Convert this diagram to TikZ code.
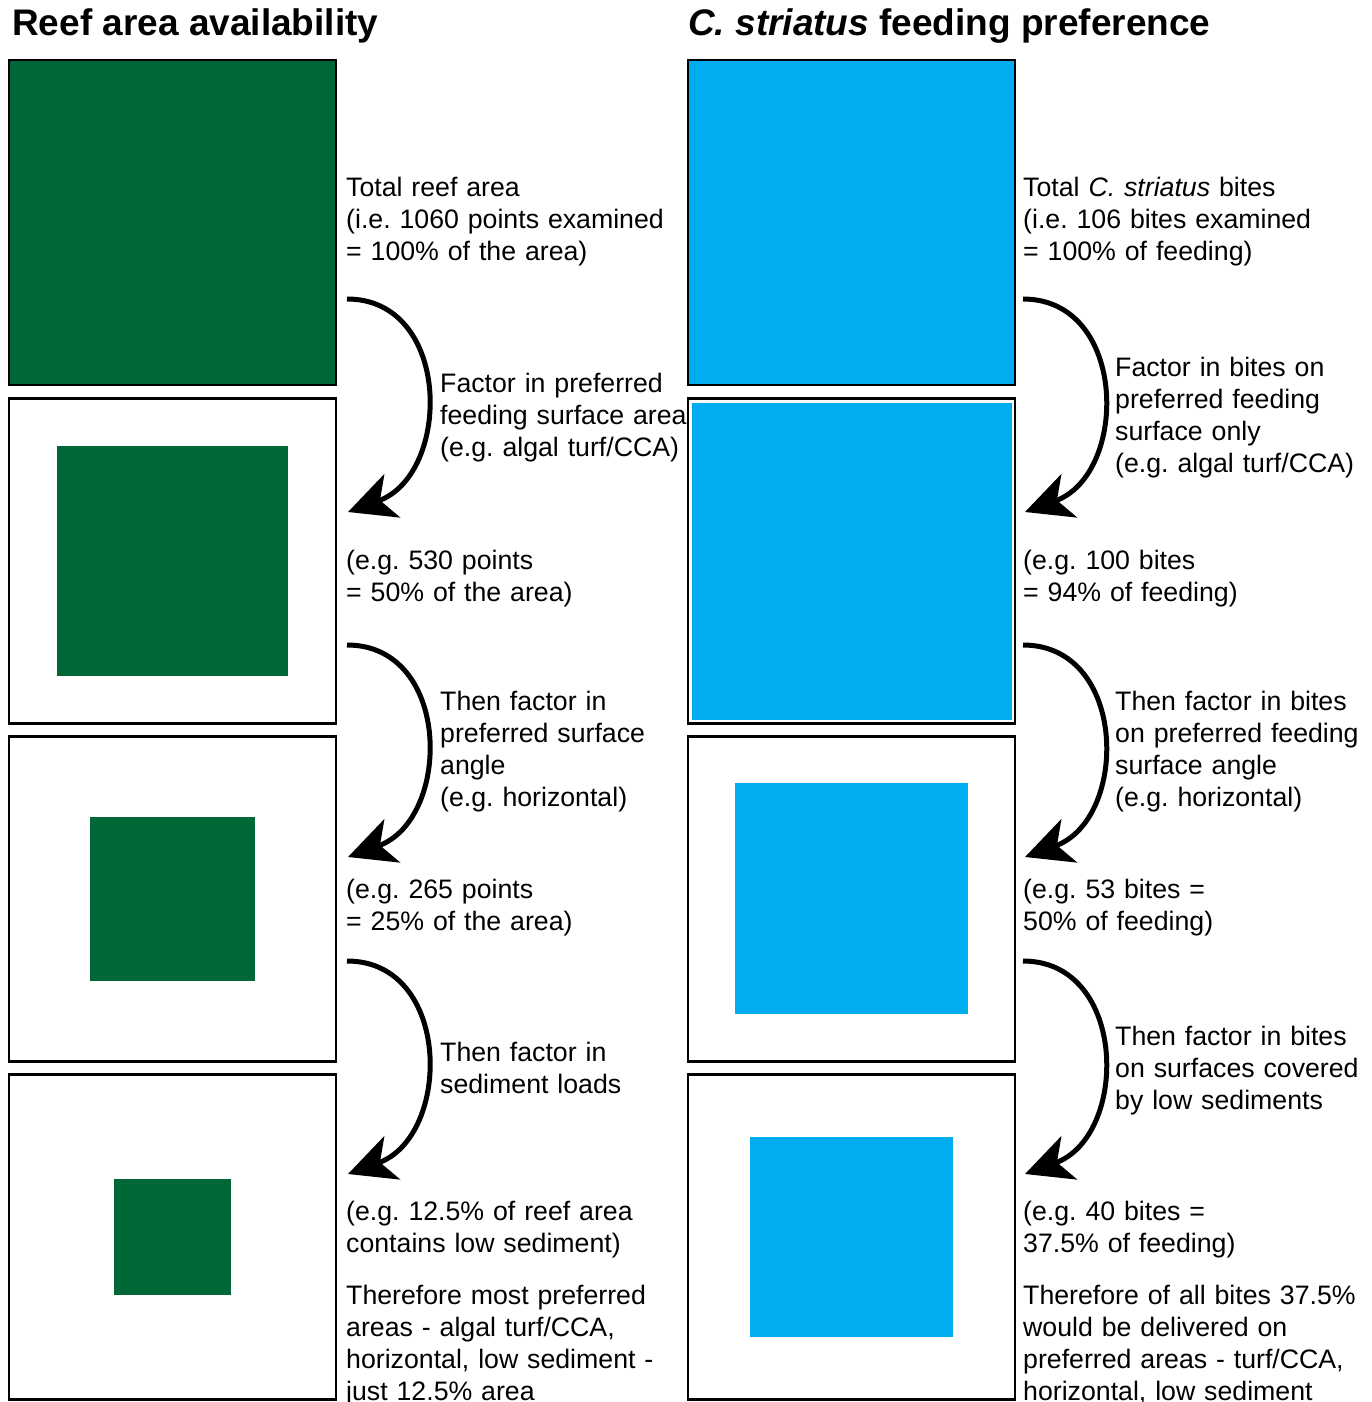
\documentclass[tikz,border=0pt]{standalone}
\usepackage{fontspec}
\setmainfont{Liberation Sans}
\usetikzlibrary{arrows.meta}
\definecolor{reefgreen}{RGB}{0,104,55}
\definecolor{biteblue}{RGB}{0,174,239}
\frenchspacing
\begin{document}
\begin{tikzpicture}[x=1pt,y=-1pt,
  panel/.style={draw=black, line width=2.5pt, inner sep=0pt, outer sep=0pt,
                minimum width=327pt, minimum height=325pt, fill=white},
  patch/.style={draw=none, inner sep=0pt, outer sep=0pt},
  heading/.style={anchor=base west, inner sep=0pt,
                  font=\fontsize{37}{44}\selectfont\bfseries},
  note/.style={anchor=base west, inner sep=0pt, text width=345pt, align=left,
               font=\fontsize{26.7}{32}\selectfont},
  flow/.style={line width=5pt, -{Stealth[length=47pt,width=46pt,inset=13pt]}}
]
\fill[white] (0,0) rectangle (1371,1402);
\useasboundingbox (0,0) rectangle (1371,1402);

% headings
\node[heading] (hl) at (12,36) {Reef area availability};
\node[heading] (hr) at (688,36) {\itshape C. striatus\upshape{} feeding preference};

% left column: reef area
\node[panel, fill=reefgreen] (L1) at (172.5,222.5) {};
\node[panel] (L2) at (172.5,561) {};
\node[panel] (L3) at (172.5,899) {};
\node[panel] (L4) at (172.5,1237) {};
\node[patch, fill=reefgreen, minimum width=231pt, minimum height=230pt] (g2) at (172.5,561) {};
\node[patch, fill=reefgreen, minimum width=165pt, minimum height=164pt] (g3) at (172.5,899) {};
\node[patch, fill=reefgreen, minimum width=117pt, minimum height=116pt] (g4) at (172.5,1237) {};

% right column: bites
\node[panel, fill=biteblue] (R1) at (851.5,222.5) {};
\node[panel] (R2) at (851.5,561) {};
\node[panel] (R3) at (851.5,899) {};
\node[panel] (R4) at (851.5,1237) {};
\node[patch, fill=biteblue, minimum width=320pt, minimum height=317pt] (b2) at (852,561.5) {};
\node[patch, fill=biteblue, minimum width=233pt, minimum height=231pt] (b3) at (851.5,898.5) {};
\node[patch, fill=biteblue, minimum width=203pt, minimum height=200pt] (b4) at (851.5,1237) {};

% left texts
\node[note] (lt1) at (346,196) {Total reef area\\(i.e. 1060 points examined\\= 100\% of the area)};
\node[note] (lf1) at (440,392) {Factor in preferred\\feeding surface area\\(e.g. algal turf/CCA)};
\node[note] (lv1) at (346,569) {(e.g. 530 points\\= 50\% of the area)};
\node[note] (lf2) at (440,710) {Then factor in\\preferred surface\\angle\\(e.g. horizontal)};
\node[note] (lv2) at (346,898) {(e.g. 265 points\\= 25\% of the area)};
\node[note] (lf3) at (440,1061) {Then factor in\\sediment loads};
\node[note] (lv3) at (346,1220) {(e.g. 12.5\% of reef area\\contains low sediment)};
\node[note] (lc) at (346,1304) {Therefore most preferred\\areas - algal turf/CCA,\\horizontal, low sediment -\\just 12.5\% area};

% right texts
\node[note] (rt1) at (1023,196) {Total \textit{C. striatus} bites\\(i.e. 106 bites examined\\= 100\% of feeding)};
\node[note] (rf1) at (1115,376) {Factor in bites on\\preferred feeding\\surface only\\(e.g. algal turf/CCA)};
\node[note] (rv1) at (1023,569) {(e.g. 100 bites\\= 94\% of feeding)};
\node[note] (rf2) at (1115,710) {Then factor in bites\\on preferred feeding\\surface angle\\(e.g. horizontal)};
\node[note] (rv2) at (1023,898) {(e.g. 53 bites =\\50\% of feeding)};
\node[note] (rf3) at (1115,1045) {Then factor in bites\\on surfaces covered\\by low sediments};
\node[note] (rv3) at (1023,1220) {(e.g. 40 bites =\\37.5\% of feeding)};
\node[note] (rc) at (1023,1304) {Therefore of all bites 37.5\%\\would be delivered on\\preferred areas - turf/CCA,\\horizontal, low sediment};

% curved arrows between steps
\coordinate (ls1) at (347,299);  \coordinate (le1) at (348,512);
\coordinate (ls2) at (347,645);  \coordinate (le2) at (348,857);
\coordinate (ls3) at (347,961);  \coordinate (le3) at (348,1174);
\coordinate (rs1) at (1023,299); \coordinate (re1) at (1025,512);
\coordinate (rs2) at (1023,645); \coordinate (re2) at (1025,857);
\coordinate (rs3) at (1023,961); \coordinate (re3) at (1025,1174);

\foreach \s/\e in {ls1/le1, ls2/le2, ls3/le3, rs1/re1, rs2/re2, rs3/re3}
  \draw[flow] (\s) .. controls +(105,0) and +(104,-38) .. (\e);
\end{tikzpicture}
\end{document}
